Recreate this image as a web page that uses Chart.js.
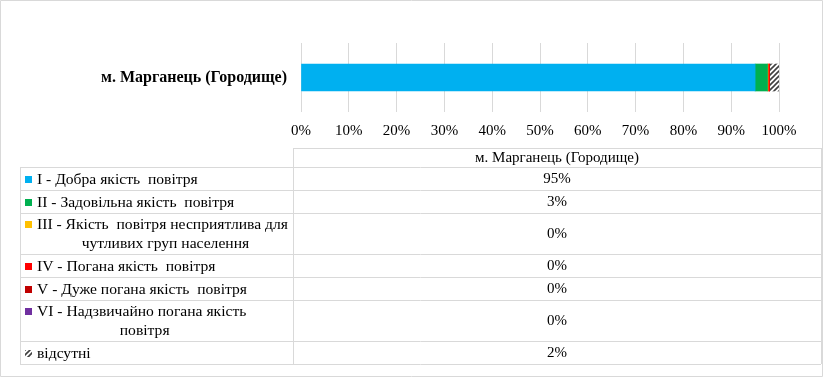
<!DOCTYPE html>
<html>
<head>
<meta charset="utf-8">
<script src="https://cdn.jsdelivr.net/npm/chart.js@4"></script>
<style>
html,body{margin:0;padding:0;background:#fff;}
canvas{display:block;}
</style>
</head>
<body>
<canvas id="c" width="823" height="377"></canvas>
<script>
const categories = ['м. Марганець (Городище)'];
const seriesNames = [
  ['I - Добра якість  повітря'],
  ['II - Задовільна якість  повітря'],
  ['III - Якість  повітря несприятлива для', 'чутливих груп населення'],
  ['IV - Погана якість  повітря'],
  ['V - Дуже погана якість  повітря'],
  ['VI - Надзвичайно погана якість', 'повітря'],
  ['відсутні']
];
const level1 = [95.0];
const level2 = [2.6];
const level3 = [0.1];
const level4 = [0.3];
const level5 = [0];
const level6 = [0];
const missing = [2.0];
const xTicks = [0,10,20,30,40,50,60,70,80,90,100];

const FONT = '"Liberation Serif", "Times New Roman", serif';

function hatch(){
  const p = document.createElement('canvas');
  p.width = 5; p.height = 5;
  const g = p.getContext('2d');
  g.fillStyle = '#fff'; g.fillRect(0,0,5,5);
  g.strokeStyle = '#404040'; g.lineWidth = 1.6;
  g.beginPath();
  g.moveTo(-1,6); g.lineTo(6,-1);
  g.moveTo(-1,1); g.lineTo(1,-1);
  g.moveTo(4,6); g.lineTo(6,4);
  g.stroke();
  return document.getElementById('c').getContext('2d').createPattern(p,'repeat');
}
const hatchPattern = hatch();
const colors = ['#00b0f0','#00b050','#ffc000','#ff0000','#c00000','#7030a0', hatchPattern];
const seriesData = [level1, level2, level3, level4, level5, level6, missing];

const datasets = seriesData.map((d,i)=>({
  label: seriesNames[i].join(' '),
  data: d,
  backgroundColor: colors[i],
  borderWidth: 0,
  barThickness: 27
}));

const tablePlugin = {
  id: 'dataTable',
  afterDraw(chart){
    const ctx = chart.ctx;
    const left = 20, mid = 293, right = 821;
    const rows = [148,167,190,213,254,277,300,341,364];
    ctx.save();
    ctx.strokeStyle = '#d9d9d9';
    ctx.lineWidth = 1;
    ctx.beginPath();
    ctx.rect(0.5,0.5,822,376);
    rows.forEach((y,i)=>{
      ctx.moveTo(i===0?mid:left, y+0.5); ctx.lineTo(right, y+0.5);
    });
    ctx.moveTo(left+0.5, rows[1]); ctx.lineTo(left+0.5, rows[rows.length-1]);
    ctx.moveTo(mid+0.5, rows[0]); ctx.lineTo(mid+0.5, rows[rows.length-1]);
    ctx.moveTo(right+0.5, rows[0]); ctx.lineTo(right+0.5, rows[rows.length-1]);
    ctx.stroke();

    ctx.fillStyle = '#000';
    ctx.font = '15px ' + FONT;
    ctx.textBaseline = 'middle';
    const cx = (mid+right)/2;
    ctx.textAlign = 'center';
    ctx.fillText(categories[0], cx, (rows[0]+rows[1])/2+1);

    seriesNames.forEach((lines,i)=>{
      const top = rows[i+1], bot = rows[i+2];
      const midY = (top+bot)/2 + 1;
      ctx.font = '15px ' + FONT;
      ctx.textAlign = 'center';
      ctx.fillStyle = '#000';
      const v = seriesData[i][0];
      ctx.fillText(Math.round(v) + '%', cx, midY);
      const lh = 19;
      const y1 = lines.length === 1 ? midY : midY - lh/2;
      ctx.fillStyle = colors[i];
      ctx.fillRect(25, Math.round(y1) - 4, 7, 7);
      ctx.fillStyle = '#000';
      ctx.font = '15.6px ' + FONT;
      ctx.textAlign = 'left';
      ctx.fillText(lines[0], 37, y1);
      if (lines.length > 1){
        const w = ctx.measureText(lines[0]).width;
        ctx.textAlign = 'center';
        ctx.fillText(lines[1], 37 + w/2 + 3, y1 + lh);
      }
    });
    ctx.restore();
  }
};

new Chart(document.getElementById('c'), {
  type: 'bar',
  data: { labels: categories, datasets },
  options: {
    indexAxis: 'y',
    responsive: false,
    animation: false,
    devicePixelRatio: 1,
    layout: { padding: { top: 43, bottom: 235, left: 0, right: 44 } },
    plugins: { legend: { display: false }, tooltip: { enabled: false } },
    scales: {
      x: {
        stacked: true,
        min: 0, max: 100,
        afterBuildTicks(s){ s.ticks = xTicks.map(v=>({value:v})); },
        afterFit(s){ s.height = 30; },
        grid: { color: '#d9d9d9', drawTicks: false },
        border: { display: false },
        ticks: { callback: v => v + '%', color: '#000', padding: 10, maxRotation: 0,
                 font: { family: FONT, size: 15 } }
      },
      y: {
        stacked: true,
        afterFit(s){ s.width = 301; },
        grid: { display: false, drawTicks: false },
        border: { display: false },
        ticks: { color: '#000', padding: 14, font: { family: FONT, size: 16, weight: 'bold' } }
      }
    }
  },
  plugins: [tablePlugin]
});
</script>
</body>
</html>
